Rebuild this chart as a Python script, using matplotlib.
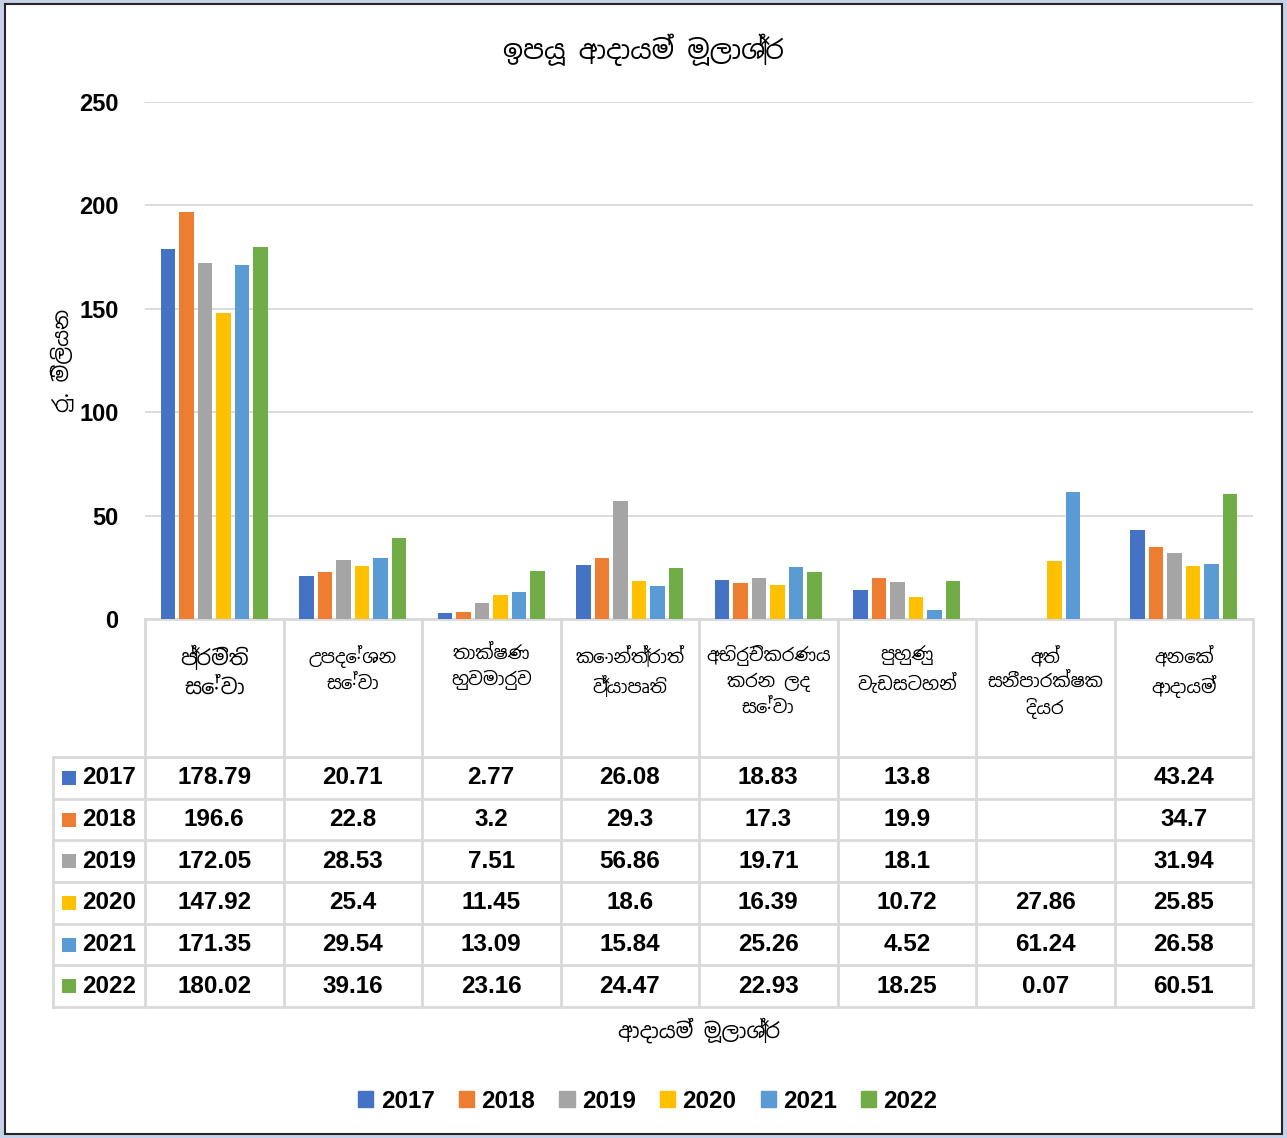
import matplotlib

matplotlib.use("Agg")
import matplotlib.pyplot as plt
from matplotlib import font_manager
from matplotlib.patches import Patch, Rectangle

# --------------------------------------------------------------------------- #
# Data
# --------------------------------------------------------------------------- #
TITLE = "ඉපයූ ආදායම් මූලාශ්‍ර"
Y_LABEL = "රු. මිලියන"
X_LABEL = "ආදායම් මූලාශ්‍ර"

categories = [
    "ප්‍රමිති\nසේවා",
    "උපදේශන\nසේවා",
    "තාක්ෂණ\nහුවමාරුව",
    "කොන්ත්‍රාත්\nව්‍යාපෘති",
    "අභිරුචිකරණය\nකරන ලද\nසේවා",
    "පුහුණු\nවැඩසටහන්",
    "අත්\nසනීපාරක්ෂක\nදියර",
    "අනෙක්\nආදායම්",
]

years = ["2017", "2018", "2019", "2020", "2021", "2022"]

v2017 = [178.79, 20.71, 2.77, 26.08, 18.83, 13.8, None, 43.24]
v2018 = [196.6, 22.8, 3.2, 29.3, 17.3, 19.9, None, 34.7]
v2019 = [172.05, 28.53, 7.51, 56.86, 19.71, 18.1, None, 31.94]
v2020 = [147.92, 25.4, 11.45, 18.6, 16.39, 10.72, 27.86, 25.85]
v2021 = [171.35, 29.54, 13.09, 15.84, 25.26, 4.52, 61.24, 26.58]
v2022 = [180.02, 39.16, 23.16, 24.47, 22.93, 18.25, 0.07, 60.51]
series = [v2017, v2018, v2019, v2020, v2021, v2022]

y_ticks = [0, 50, 100, 150, 200, 250]

colors = ["#4472C4", "#ED7D31", "#A5A5A5", "#FFC000", "#5B9BD5", "#70AD47"]

# --------------------------------------------------------------------------- #
# Fonts
# --------------------------------------------------------------------------- #
avail = {f.name for f in font_manager.fontManager.ttflist}
SIN = [f for f in ["Noto Sans Sinhala", "Noto Serif Sinhala", "Iskoola Pota",
                   "LKLUG", "FreeSans", "FreeSerif"] if f in avail]
SIN_FAM = SIN + ["DejaVu Sans"]
NUM_FAM = ["Liberation Sans", "DejaVu Sans"]
NUM_SIZE = 17.5

GRID = "#d9d9d9"
W, H = 1287, 1138

fig = plt.figure(figsize=(W / 100, H / 100), dpi=100)
fig.patch.set_facecolor("#c7d1e7")
fig.patches.append(Rectangle((5 / W, 4 / H), (1282 - 5) / W, (1134 - 4) / H,
                             transform=fig.transFigure, facecolor="white",
                             edgecolor="#262626", lw=1.5, zorder=-5))

# overlay in pixel coordinates for the data table and free text
ov = fig.add_axes([0, 0, 1, 1])
ov.set_xlim(0, W)
ov.set_ylim(H, 0)
ov.axis("off")
ov.set_zorder(0)

# --------------------------------------------------------------------------- #
# Bars
# --------------------------------------------------------------------------- #
PX_L, PX_R, PX_T, PX_B = 145, 1253, 102, 619
ax = fig.add_axes([PX_L / W, 1 - PX_B / H, (PX_R - PX_L) / W, (PX_B - PX_T) / H])
ax.set_zorder(1)
ax.patch.set_alpha(0)

n = len(categories)
step = 0.1336
bw = 0.108
for k, vals in enumerate(series):
    xs = [i + (k - 2.5) * step for i in range(n) if vals[i] is not None]
    hs = [v for v in vals if v is not None]
    ax.bar(xs, hs, width=bw, color=colors[k], zorder=3)

ax.set_xlim(-0.5, n - 0.5)
ax.set_ylim(0, 250)
ax.set_yticks(y_ticks)
ax.set_yticklabels([str(t) for t in y_ticks], fontsize=17,
                   fontweight="bold", family=NUM_FAM)
ax.set_xticks([])
ax.tick_params(axis="y", length=0, pad=19)
ax.grid(axis="y", color=GRID, lw=1.3, zorder=0)
for s in ["top", "right", "left"]:
    ax.spines[s].set_visible(False)
ax.spines["bottom"].set_color(GRID)
ax.spines["bottom"].set_linewidth(2)

# --------------------------------------------------------------------------- #
# Data table
# --------------------------------------------------------------------------- #
cw = (PX_R - PX_L) / n
head_bot = 757
rh = (1007 - head_bot) / len(years)
leg_l = 53

for r in range(len(years) + 1):
    y = head_bot + r * rh
    ov.plot([leg_l, PX_R], [y, y], color=GRID, lw=2)
ov.plot([leg_l, leg_l], [head_bot, 1007], color=GRID, lw=2)
for c in range(n + 1):
    x = PX_L + c * cw
    ov.plot([x, x], [PX_B, 1007], color=GRID, lw=2)

for c, lab in enumerate(categories):
    ov.text(PX_L + (c + 0.5) * cw, 645, lab, ha="center", va="top",
            fontsize=15 if c == 0 else 13,
            fontweight="bold" if c == 0 else "normal",
            family=SIN_FAM, linespacing=1.45)

for r, (yr, vals) in enumerate(zip(years, series)):
    yc = head_bot + (r + 0.5) * rh
    ov.add_patch(Rectangle((62, yc - 7), 14, 14, color=colors[r], lw=0))
    ov.text(82, yc, yr, ha="left", va="center", fontsize=NUM_SIZE,
            fontweight="bold", family=NUM_FAM)
    for c, v in enumerate(vals):
        if v is None:
            continue
        ov.text(PX_L + (c + 0.5) * cw, yc, f"{v:g}", ha="center", va="center",
                fontsize=NUM_SIZE, fontweight="bold", family=NUM_FAM)

# --------------------------------------------------------------------------- #
# Titles and legend
# --------------------------------------------------------------------------- #
ov.text(643, 50, TITLE, ha="center", va="center", fontsize=19,
        fontweight="bold", family=SIN_FAM)
ov.text(62, (PX_T + PX_B) / 2, Y_LABEL, ha="center", va="center", rotation=90,
        fontsize=15, fontweight="bold", family=SIN_FAM)
ov.text((PX_L + PX_R) / 2, 1030, X_LABEL, ha="center", va="center",
        fontsize=15, fontweight="bold", family=SIN_FAM)

handles = [Patch(color=c, label=y) for c, y in zip(colors, years)]
fig.legend(handles=handles, loc="center", bbox_to_anchor=(648 / W, 1 - 1101 / H),
           ncol=6, frameon=False, handlelength=0.62, handleheight=0.62,
           handletextpad=0.3, columnspacing=1.0,
           prop={"size": NUM_SIZE, "weight": "bold", "family": NUM_FAM})

fig.savefig("out.png", dpi=100, facecolor=fig.get_facecolor())
